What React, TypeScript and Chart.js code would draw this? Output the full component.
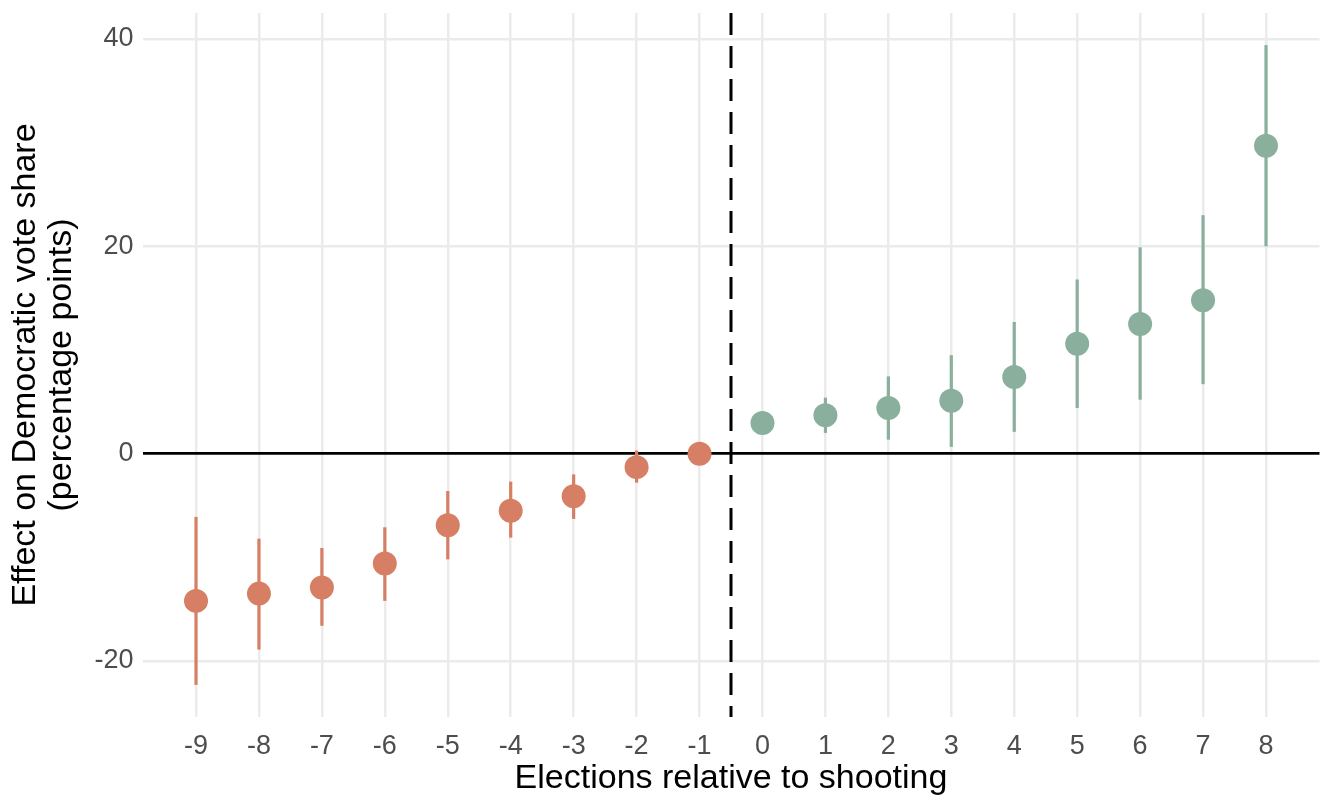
import { useEffect, useRef } from "react";
import { Chart, registerables } from "chart.js";

Chart.register(...registerables);

const periods = [-9, -8, -7, -6, -5, -4, -3, -2, -1, 0, 1, 2, 3, 4, 5, 6, 7, 8];
const estimates = [-14.2, -13.5, -12.9, -10.6, -6.9, -5.5, -4.1, -1.3, 0, 2.95, 3.7, 4.4, 5.1, 7.4, 10.6, 12.5, 14.8, 29.7];
const lowerCI = [-22.3, -18.9, -16.6, -14.2, -10.2, -8.1, -6.3, -2.8, null, null, 2.0, 1.35, 0.65, 2.1, 4.4, 5.2, 6.7, 20.0];
const upperCI = [-6.1, -8.2, -9.1, -7.1, -3.6, -2.7, -2.0, 0.3, null, null, 5.4, 7.45, 9.5, 12.7, 16.8, 19.9, 23.0, 39.4];
const yTicks = [-20, 0, 20, 40];
const shootingAt = -0.5;

const preColor = "#D67F64";
const postColor = "#8AB09D";
const FONT = "'Liberation Sans', Arial, Helvetica, sans-serif";

const colorFor = (p: number) => (p < 0 ? preColor : postColor);

const markPlugin = {
  id: "marks",
  beforeDatasetsDraw(chart: any) {
    const { ctx, chartArea, scales } = chart;
    const xs = scales.x;
    const ys = scales.y;
    ctx.save();
    // dashed vertical line
    const vx = xs.getPixelForValue(shootingAt);
    ctx.strokeStyle = "#000";
    ctx.lineWidth = 3;
    ctx.setLineDash([22, 11]);
    ctx.beginPath();
    ctx.moveTo(vx, chartArea.top);
    ctx.lineTo(vx, chartArea.bottom);
    ctx.stroke();
    ctx.setLineDash([]);
    // error bars
    ctx.lineWidth = 3.2;
    ctx.lineCap = "butt";
    periods.forEach((p, i) => {
      const lo = lowerCI[i];
      const hi = upperCI[i];
      if (lo === null || hi === null) return;
      const x = xs.getPixelForValue(p);
      ctx.strokeStyle = colorFor(p);
      ctx.beginPath();
      ctx.moveTo(x, ys.getPixelForValue(lo));
      ctx.lineTo(x, ys.getPixelForValue(hi));
      ctx.stroke();
    });
    ctx.restore();
  },
};

export default function App() {
  const ref = useRef<HTMLCanvasElement | null>(null);
  useEffect(() => {
    if (!ref.current) return;
    const chart = new Chart(ref.current, {
      type: "scatter",
      data: {
        datasets: [
          {
            data: periods.map((p, i) => ({ x: p, y: estimates[i] })),
            backgroundColor: periods.map(colorFor),
            borderWidth: 0,
            pointRadius: 12,
            pointHoverRadius: 12,
          },
        ],
      },
      options: {
        animation: false,
        responsive: false,
        devicePixelRatio: 1,
        layout: { padding: { left: 0, right: 12.5, top: 13, bottom: 0 } },
        plugins: { legend: { display: false }, tooltip: { enabled: false } },
        scales: {
          x: {
            type: "linear",
            min: -9.85,
            max: 8.85,
            afterBuildTicks: (s: any) => {
              s.ticks = periods.map((v) => ({ value: v }));
            },
            afterFit: (s: any) => {
              s.height = 91;
              s.paddingLeft = 0;
              s.paddingRight = 0;
            },
            grid: { color: "#EBEBEB", lineWidth: 2.5, drawTicks: false },
            border: { display: false },
            ticks: {
              padding: 13,
              color: "#4D4D4D",
              font: { family: FONT, size: 27 },
              callback: (v: any) => String(v),
            },
            title: {
              display: true,
              text: "Elections relative to shooting",
              color: "#000",
              font: { family: FONT, size: 34, lineHeight: 1.1 },
              padding: { top: 0, bottom: 11 },
            },
          },
          y: {
            type: "linear",
            min: -25.4,
            max: 42.5,
            afterBuildTicks: (s: any) => {
              s.ticks = yTicks.map((v) => ({ value: v }));
            },
            afterFit: (s: any) => {
              s.width = 142.5;
              s.paddingTop = 0;
              s.paddingBottom = 0;
            },
            grid: {
              color: (c: any) => (c.tick && c.tick.value === 0 ? "#000" : "#EBEBEB"),
              lineWidth: (c: any) => (c.tick && c.tick.value === 0 ? 2.8 : 2.5),
              drawTicks: false,
            },
            border: { display: false },
            ticks: {
              padding: 9,
              color: "#4D4D4D",
              font: { family: FONT, size: 27 },
              callback: (v: any) => String(v),
            },
            title: {
              display: true,
              text: ["Effect on Democratic vote share", "(percentage points)"],
              color: "#000",
              font: { family: FONT, size: 34, lineHeight: 1.07 },
              padding: { top: 7, bottom: 0 },
            },
          },
        },
      },
      plugins: [markPlugin],
    });
    return () => chart.destroy();
  }, []);
  return (
    <div style={{ position: "absolute", left: 0, top: 0, width: 1332, height: 808, background: "#fff" }}>
      <canvas ref={ref} width={1332} height={808} style={{ display: "block" }} />
    </div>
  );
}
